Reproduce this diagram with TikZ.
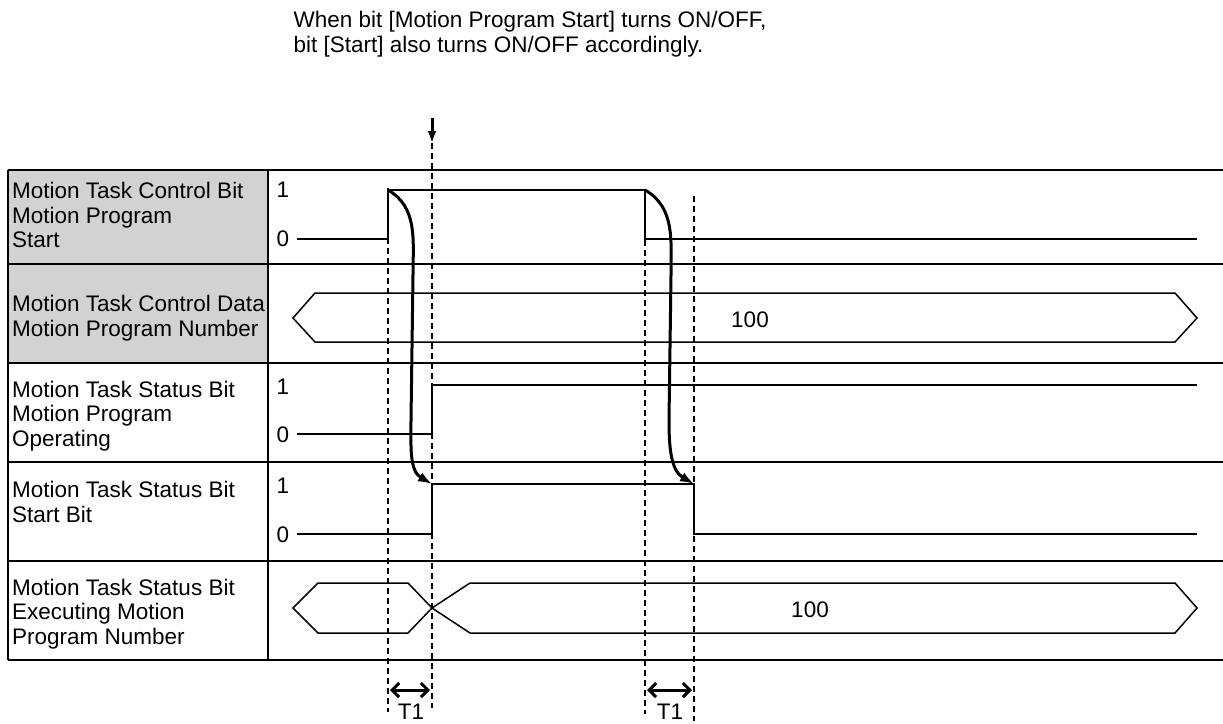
\documentclass[tikz,border=0pt]{standalone}
\usepackage{fontspec}
\setmainfont{Liberation Sans}
\usetikzlibrary{arrows.meta}
\begin{document}
\begin{tikzpicture}[x=1pt,y=-1pt,
  lbl/.style={anchor=west,inner sep=0pt,font=\fontsize{22.5}{24.5}\selectfont,align=left},
  lvl/.style={anchor=center,inner sep=0pt,font=\fontsize{22.5}{24.5}\selectfont},
  sig/.style={line width=1.5pt},
  guide/.style={line width=1.5pt,dash pattern=on 6pt off 4pt},
  causal/.style={line width=3pt,-{Latex[length=14pt,width=10pt]}},
  span/.style={line width=3pt,{Straight Barb[length=7pt]}-{Straight Barb[length=7pt]}}]
  \useasboundingbox (0,0) rectangle (1223,723);
  % note on top
  \node[lvl,align=left] (note) at (530,34) {When bit [Motion Program Start] turns ON/OFF,\\bit [Start] also turns ON/OFF accordingly.};
  \coordinate (nt) at (432,118);
  \coordinate (nh) at (432,143);
  \draw[line width=3pt,-{Latex[length=12pt,width=9pt]}] (nt) -- (nh);
  % table
  \fill[gray!35] (8,170) rectangle (268,363);
  \foreach \y in {170,264,363,462,561,660}
    \draw[line width=1.8pt] (8,\y) -- (1223,\y);
  \draw[line width=1.8pt] (8,170) -- (8,660);
  \draw[line width=2.2pt] (268,170) -- (268,660);
  % row labels
  \node[lbl] (r1) at (12,215) {Motion Task Control Bit\\Motion Program\\Start};
  \node[lbl] (r2) at (12,318) {Motion Task Control Data\\Motion Program Number};
  \node[lbl] (r3) at (12,416) {Motion Task Status Bit\\Motion Program\\Operating};
  \node[lbl] (r4) at (12,502) {Motion Task Status Bit\\Start Bit};
  \node[lbl] (r5) at (12,614) {Motion Task Status Bit\\Executing Motion\\Program Number};
  % levels
  \foreach \n/\y/\t in {a1/190/1,a0/239/0,c1/387/1,c0/435/0,d1/486/1,d0/535/0}
    \node[lvl] (\n) at (283,\y) {\t};
  % row 1
  \draw[sig] (297,239) -- (388,239) -- (388,190) -- (645,190) -- (645,239) -- (1197,239);
  % row 2
  \draw[sig] (293,318) -- (315,293) -- (1175,293) -- (1197,318) -- (1175,342) -- (315,342) -- cycle;
  \node[lvl] (v1) at (750,320) {100};
  % row 3
  \draw[sig] (297,434) -- (432,434) -- (432,385) -- (1197,385);
  % row 4
  \draw[sig] (297,534) -- (432,534) -- (432,484) -- (694,484) -- (694,534) -- (1197,534);
  % row 5
  \draw[sig] (293,608) -- (318,583) -- (408,583) -- (432,608) -- (408,633) -- (318,633) -- cycle;
  \draw[sig] (432,608) -- (470,583) -- (1175,583) -- (1197,608) -- (1175,633) -- (470,633) -- cycle;
  \node[lvl] (v2) at (810,610) {100};
  % guides
  \draw[guide] (388,188) -- (388,712);
  \draw[guide] (432,143) -- (432,708);
  \draw[guide] (645,190) -- (645,714);
  \draw[guide] (694,196) -- (694,721);
  % causal arrows
  \draw[causal] (388,190) to[out=-30,in=90] (413,275) -- (411,420) to[out=-90,in=150] (432,484);
  \draw[causal] (645,190) to[out=-30,in=90] (671,275) -- (669,420) to[out=-90,in=150] (694,484);
  % T1
  \draw[span] (390,690) -- (430,690);
  \draw[span] (647,690) -- (692,690);
  \node[lvl] (t1) at (411,712) {T1};
  \node[lvl] (t2) at (670,712) {T1};
\end{tikzpicture}
\end{document}
